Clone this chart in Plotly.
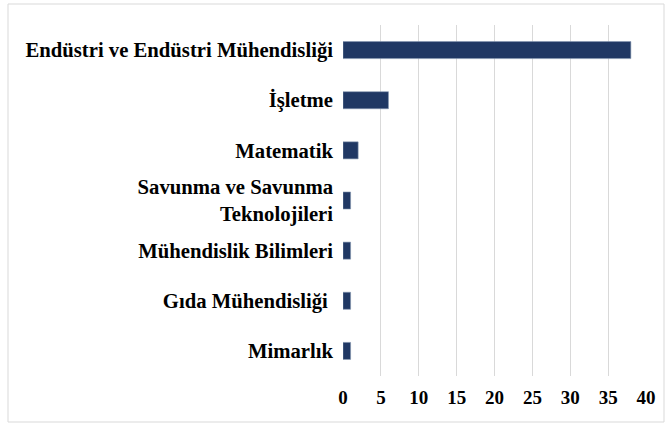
import plotly.graph_objects as go

categories = ["Endüstri ve Endüstri Mühendisliği", "İşletme", "Matematik",
              "Savunma ve Savunma<br>Teknolojileri", "Mühendislik Bilimleri",
              "Gıda Mühendisliği ", "Mimarlık"]
values = [38, 6, 2, 1, 1, 1, 1]
tick_vals = [0, 5, 10, 15, 20, 25, 30, 35, 40]

W, H = 665, 423
L, R, T, B = 343, 19, 25, 47
pw, ph = W - L - R, H - T - B

fig = go.Figure(go.Bar(
    y=categories, x=values, orientation="h",
    marker=dict(color="#203864", line=dict(color="#8497b0", width=0.6)),
))

fig.update_layout(
    width=W, height=H,
    margin=dict(l=L, r=R, t=T, b=B, autoexpand=False),
    paper_bgcolor="white", plot_bgcolor="white",
    bargap=0.66,
    showlegend=False,
    font=dict(family="Liberation Serif", size=20.7, color="black"),
    xaxis=dict(range=[0, 40], tickvals=tick_vals, showgrid=True,
               gridcolor="#d9d9d9", gridwidth=1, zeroline=False,
               showline=False, ticks="", automargin=False,
               tickfont=dict(size=19, family="Liberation Serif", weight="bold"),
               ticklabelstandoff=8),
    yaxis=dict(categoryorder="array", categoryarray=categories[::-1],
               showgrid=False, zeroline=False, showline=False, ticks="",
               automargin=False,
               tickfont=dict(size=20.7, family="Liberation Serif", weight="bold"),
               ticklabelstandoff=9),
    shapes=[dict(type="rect", xref="paper", yref="paper",
                 x0=(8 - L) / pw, x1=(664 - L) / pw,
                 y0=(H - B - 422) / ph, y1=(H - B - 4) / ph,
                 line=dict(color="#d9d9d9", width=1), fillcolor="rgba(0,0,0,0)",
                 layer="below")],
)

fig.write_html("out.html", config={"displayModeBar": False},
               post_script="document.body.style.margin='0';document.body.style.overflow='hidden';")
